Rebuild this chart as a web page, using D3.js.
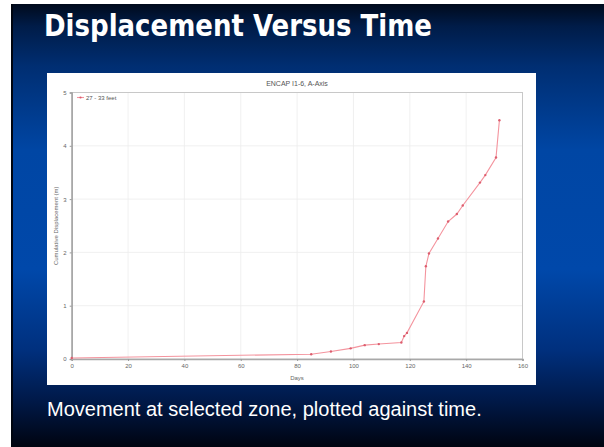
<!DOCTYPE html>
<html>
<head>
<meta charset="utf-8">
<script src="https://d3js.org/d3.v7.min.js"></script>
<style>
  body { margin: 0; background: #fff; }
  svg { display: block; }
</style>
</head>
<body>
<div id="chart"></div>
<script>
// values
var days = [0, 85, 92, 99, 104, 109, 117, 118, 119, 125, 125.7, 126.8, 130, 133.6, 136.7, 138.8, 144.9, 146.8, 150.6, 151.8];
var disp = [0.02, 0.09, 0.14, 0.2, 0.26, 0.28, 0.31, 0.43, 0.49, 1.08, 1.74, 1.98, 2.26, 2.58, 2.72, 2.88, 3.31, 3.45, 3.78, 4.48];
var xTicks = [0, 20, 40, 60, 80, 100, 120, 140, 160];
var yTicks = [0, 1, 2, 3, 4, 5];
var seriesName = "27 - 33 feet";

var width = 604, height = 447;
var svg = d3.select("#chart").append("svg")
  .attr("width", width)
  .attr("height", height);

// slide background
var defs = svg.append("defs");
var grad = defs.append("linearGradient")
  .attr("id", "bg").attr("x1", 0).attr("y1", 0).attr("x2", 0).attr("y2", 1);
[[0, "#000a1c"], [0.05, "#001c48"], [0.14, "#002e72"], [0.33, "#0046a4"],
 [0.6, "#0048aa"], [0.78, "#00307e"], [0.9, "#001846"], [1, "#000410"]]
  .forEach(function(s) {
    grad.append("stop").attr("offset", s[0]).attr("stop-color", s[1]);
  });

svg.append("rect")
  .attr("x", 11).attr("y", 4)
  .attr("width", width - 11).attr("height", height - 4)
  .attr("fill", "url(#bg)");
// thin dark edge on the left of the slide
svg.append("rect")
  .attr("x", 11).attr("y", 4)
  .attr("width", 2).attr("height", height - 4)
  .attr("fill", "#000510");

// slide title
svg.append("text")
  .attr("x", 44).attr("y", 36)
  .attr("textLength", 388)
  .attr("lengthAdjust", "spacingAndGlyphs")
  .style("font-family", "'Liberation Sans Narrow', 'Arial Narrow', 'DejaVu Sans Condensed', sans-serif")
  .style("font-weight", "bold")
  .style("font-size", "30px")
  .attr("fill", "#fff")
  .text("Displacement Versus Time");

// caption
svg.append("text")
  .attr("x", 47).attr("y", 416)
  .style("font-family", "'Liberation Sans', Arial, sans-serif")
  .style("font-size", "20px")
  .attr("fill", "#fff")
  .text("Movement at selected zone, plotted against time.");

// white chart panel
svg.append("rect")
  .attr("x", 47).attr("y", 73)
  .attr("width", 489).attr("height", 312)
  .attr("fill", "#fff");

var xs = d3.scaleLinear().domain([0, 160]).range([71.7, 522.5]);
var ys = d3.scaleLinear().domain([0, 5]).range([359, 92.5]);

var g = svg.append("g");

// grid
g.selectAll(".vgrid").data(xTicks.slice(1, -1)).enter().append("line")
  .attr("x1", function(d) { return xs(d); })
  .attr("x2", function(d) { return xs(d); })
  .attr("y1", ys(0)).attr("y2", ys(5))
  .attr("stroke", "#ececec").attr("stroke-width", 0.8);
g.selectAll(".hgrid").data(yTicks.slice(1, -1)).enter().append("line")
  .attr("x1", xs(0)).attr("x2", xs(160))
  .attr("y1", function(d) { return ys(d); })
  .attr("y2", function(d) { return ys(d); })
  .attr("stroke", "#ececec").attr("stroke-width", 0.8);

// frame
g.append("rect")
  .attr("x", xs(0)).attr("y", ys(5))
  .attr("width", xs(160) - xs(0)).attr("height", ys(0) - ys(5))
  .attr("fill", "none").attr("stroke", "#c8c8c8").attr("stroke-width", 1);

// axes
var xAxis = g.append("g")
  .attr("transform", "translate(0," + ys(0) + ")")
  .call(d3.axisBottom(xs).tickValues(xTicks).tickFormat(d3.format("d")).tickSize(2).tickPadding(3));
var yAxis = g.append("g")
  .attr("transform", "translate(" + xs(0) + ",0)")
  .call(d3.axisLeft(ys).tickValues(yTicks).tickFormat(d3.format("d")).tickSize(2).tickPadding(3));
[xAxis, yAxis].forEach(function(a) {
  a.select(".domain").attr("stroke", "#a8a8a8").attr("stroke-width", 1.6);
  a.selectAll(".tick line").attr("stroke", "#999");
  a.selectAll(".tick text")
    .attr("fill", "#666")
    .style("font-family", "'Liberation Sans', Arial, sans-serif")
    .style("font-size", "6px");
});

// labels
g.append("text")
  .attr("x", 297).attr("y", 86)
  .attr("text-anchor", "middle")
  .style("font-family", "'Liberation Sans', Arial, sans-serif")
  .style("font-size", "7px")
  .attr("fill", "#555")
  .text("ENCAP I1-6, A-Axis");

g.append("text")
  .attr("x", 297).attr("y", 380)
  .attr("text-anchor", "middle")
  .style("font-family", "'Liberation Sans', Arial, sans-serif")
  .style("font-size", "6px")
  .attr("fill", "#666")
  .text("Days");

g.append("text")
  .attr("transform", "translate(58," + ((ys(0) + ys(5)) / 2) + ") rotate(-90)")
  .attr("text-anchor", "middle")
  .style("font-family", "'Liberation Sans', Arial, sans-serif")
  .style("font-size", "6px")
  .attr("fill", "#666")
  .text("Cumulative Displacement (m)");

// series
var pts = days.map(function(d, i) { return [d, disp[i]]; });
var line = d3.line()
  .x(function(d) { return xs(d[0]); })
  .y(function(d) { return ys(d[1]); });

g.append("path")
  .datum(pts)
  .attr("fill", "none")
  .attr("stroke", "#f4949e")
  .attr("stroke-width", 1.1)
  .attr("d", line);

g.selectAll(".pt").data(pts).enter().append("circle")
  .attr("cx", function(d) { return xs(d[0]); })
  .attr("cy", function(d) { return ys(d[1]); })
  .attr("r", 1.2)
  .attr("fill", "#dc5e6e");

// legend
g.append("line")
  .attr("x1", 77).attr("x2", 84).attr("y1", 97.5).attr("y2", 97.5)
  .attr("stroke", "#f4949e").attr("stroke-width", 1.1);
g.append("circle")
  .attr("cx", 80.5).attr("cy", 97.5).attr("r", 1.1).attr("fill", "#dc5e6e");
g.append("text")
  .attr("x", 86).attr("y", 99.5)
  .style("font-family", "'Liberation Sans', Arial, sans-serif")
  .style("font-size", "6px")
  .attr("fill", "#555")
  .text(seriesName);
</script>
</body>
</html>
